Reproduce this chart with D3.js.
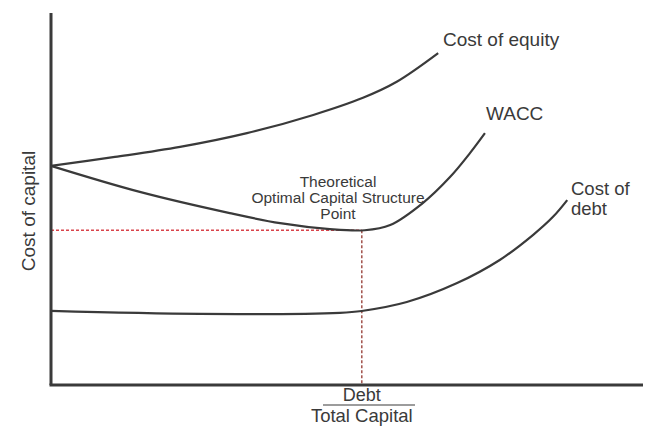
<!DOCTYPE html>
<html>
<head>
<meta charset="utf-8">
<script src="https://cdn.jsdelivr.net/npm/d3@7"></script>
<style>
  html, body { margin: 0; padding: 0; background: #fff; }
  svg { display: block; font-family: "Liberation Sans", Arial, sans-serif; }
</style>
</head>
<body>
<svg id="chart" width="659" height="428"></svg>
<script>
// Debt / Total Capital (%) and cost of capital (relative units)
const equityX = [0, 10.8, 21.8, 33.1, 44.3, 52.7, 58.4, 65.4];
const equityY = [58.9, 61.3, 64.0, 67.7, 72.6, 77.2, 81.5, 89.2];

const waccX = [0, 15.0, 30.2, 38.7, 47.1, 53.0, 57.3, 62.8, 67.4, 70.8, 73.3];
const waccY = [58.9, 51.9, 46.2, 43.5, 41.9, 41.6, 43.0, 48.9, 55.9, 62.4, 67.7];

const debtX = [0, 25.2, 48.8, 52.5, 60.1, 68.6, 75.8, 81.4, 84.8, 87.2];
const debtY = [19.9, 19.1, 19.4, 19.9, 22.3, 27.4, 33.6, 40.3, 45.2, 49.7];

const optimalX = 52.5;
const optimalY = 41.6;

const seriesLabels = ["Cost of equity", "WACC", ["Cost of", "debt"]];
const optimalLabel = ["Theoretical", "Optimal Capital Structure", "Point"];
const yAxisLabel = "Cost of capital";
const xAxisNumerator = "Debt";
const xAxisDenominator = "Total Capital";

const svg = d3.select("#chart");
const x = d3.scaleLinear().domain([0, 100]).range([51, 643]);
const y = d3.scaleLinear().domain([0, 100]).range([385, 13]);

const ink = "#3a3a3a";
const red = "#d9434a";

// dashed guide lines
svg.append("line")
  .attr("x1", x(0)).attr("x2", x(optimalX))
  .attr("y1", y(optimalY)).attr("y2", y(optimalY))
  .attr("stroke", red).attr("stroke-width", 1.5).attr("stroke-dasharray", "3,2");
svg.append("line")
  .attr("x1", x(optimalX)).attr("x2", x(optimalX))
  .attr("y1", y(optimalY)).attr("y2", y(0))
  .attr("stroke", "#a0504a").attr("stroke-width", 1.5).attr("stroke-dasharray", "3,2");

const line = d3.line().x(d => x(d[0])).y(d => y(d[1])).curve(d3.curveCatmullRom.alpha(0.5));
const series = [
  d3.zip(equityX, equityY),
  d3.zip(waccX, waccY),
  d3.zip(debtX, debtY)
];
svg.selectAll("path.curve").data(series).enter().append("path")
  .attr("class", "curve")
  .attr("d", line)
  .attr("fill", "none")
  .attr("stroke", ink)
  .attr("stroke-width", 2.2);

// axes
svg.append("line")
  .attr("x1", x(0)).attr("x2", x(0))
  .attr("y1", y(100)).attr("y2", y(0))
  .attr("stroke", ink).attr("stroke-width", 3);
svg.append("line")
  .attr("x1", x(0) - 1.5).attr("x2", x(100))
  .attr("y1", y(0)).attr("y2", y(0))
  .attr("stroke", ink).attr("stroke-width", 3);

// series labels
svg.append("text").attr("x", 443).attr("y", 46)
  .attr("font-size", 19).attr("fill", ink).text(seriesLabels[0]);
svg.append("text").attr("x", 486).attr("y", 120)
  .attr("font-size", 19).attr("fill", ink).text(seriesLabels[1]);
svg.selectAll("text.debtlbl").data(seriesLabels[2]).enter().append("text")
  .attr("class", "debtlbl")
  .attr("x", 571).attr("y", (d, i) => 195 + i * 20)
  .attr("font-size", 18.5).attr("fill", ink).text(d => d);

// optimal label
svg.selectAll("text.opt").data(optimalLabel).enter().append("text")
  .attr("class", "opt")
  .attr("x", 338).attr("y", (d, i) => 186.5 + i * 16)
  .attr("text-anchor", "middle")
  .attr("font-size", 15.5).attr("fill", ink).text(d => d);

// y axis label
svg.append("text")
  .attr("transform", "translate(35,211) rotate(-90)")
  .attr("text-anchor", "middle")
  .attr("font-size", 19).attr("fill", ink).text(yAxisLabel);

// x axis label (fraction)
svg.append("text").attr("x", x(optimalX)).attr("y", 401)
  .attr("text-anchor", "middle").attr("font-size", 18).attr("fill", ink).text(xAxisNumerator);
svg.append("line")
  .attr("x1", 323).attr("x2", 415).attr("y1", 405).attr("y2", 405)
  .attr("stroke", ink).attr("stroke-width", 1.2);
svg.append("text").attr("x", x(optimalX)).attr("y", 422)
  .attr("text-anchor", "middle").attr("font-size", 18.5).attr("fill", ink).text(xAxisDenominator);
</script>
</body>
</html>
